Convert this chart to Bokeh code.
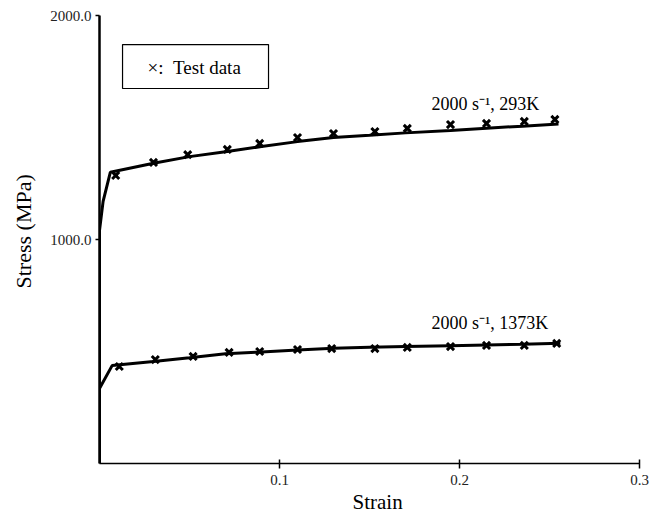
from bokeh.plotting import figure
from bokeh.models import FixedTicker, PrintfTickFormatter, Label, BoxAnnotation, Range1d, Title
from bokeh.embed import file_html
from bokeh.resources import INLINE

# ---- data ----
x_ticks = [0.1, 0.2, 0.3]
y_ticks = [1000, 2000]

model_293_strain = [0, 0, 0.002, 0.006, 0.03, 0.05, 0.07, 0.09, 0.11, 0.13, 0.15, 0.17, 0.195, 0.215, 0.235, 0.255]
model_293_stress = [0, 1040, 1170, 1300, 1340, 1370, 1392, 1415, 1437, 1455, 1465, 1476, 1487, 1497, 1506, 1516]

test_293_strain = [0.009, 0.030, 0.049, 0.071, 0.089, 0.110, 0.130, 0.153, 0.171, 0.195, 0.215, 0.236, 0.253]
test_293_stress = [1286, 1344, 1379, 1402, 1429, 1455, 1473, 1482, 1496, 1513, 1518, 1527, 1536]

model_1373_strain = [0, 0, 0.007, 0.03, 0.05, 0.07, 0.09, 0.11, 0.13, 0.15, 0.17, 0.195, 0.215, 0.235, 0.256]
model_1373_stress = [0, 335, 437, 455, 472, 490, 498, 507, 515, 519, 522, 526, 529, 532, 537]

test_1373_strain = [0.011, 0.031, 0.052, 0.072, 0.089, 0.110, 0.129, 0.153, 0.171, 0.195, 0.215, 0.236, 0.254]
test_1373_stress = [433, 464, 478, 496, 500, 509, 513, 513, 518, 522, 527, 527, 536]

label_293 = "2000 s\u207b\u00b9, 293K"
label_1373 = "2000 s\u207b\u00b9, 1373K"
legend_text = "\u00d7:\u00a0\u00a0Test data"
x_title = "Strain"
y_title = "Stress (MPa)"

FONT = "Liberation Serif"

p = figure(width=650, height=516, output_backend="svg", toolbar_location=None,
           x_range=Range1d(0, 0.3), y_range=Range1d(0, 2000),
           min_border_left=99, min_border_right=11, min_border_top=15, min_border_bottom=53)
p.outline_line_color = None
p.grid.visible = False
p.background_fill_color = "white"
p.border_fill_color = "white"

# axes
p.xaxis.ticker = FixedTicker(ticks=x_ticks)
p.yaxis.ticker = FixedTicker(ticks=y_ticks)
p.xaxis.formatter = PrintfTickFormatter(format="%.1f")
p.yaxis.formatter = PrintfTickFormatter(format="%.1f")
for ax in (p.xaxis, p.yaxis):
    ax.major_label_text_font = FONT
    ax.major_label_text_font_size = "15px"
    ax.major_label_text_color = "#222222"
    ax.axis_line_color = "black"
    ax.major_tick_line_color = "black"
    ax.minor_tick_line_color = None
p.xaxis.axis_line_width = 1.5
p.xaxis.major_tick_line_width = 1.5
p.xaxis.major_tick_in = 4
p.xaxis.major_tick_out = 5
p.xaxis.major_label_standoff = 6
p.yaxis.axis_line_width = 2.5
p.yaxis.major_tick_line_width = 1.5
p.yaxis.major_tick_in = 0
p.yaxis.major_tick_out = 4
p.yaxis.major_label_standoff = 4

# axis titles (as side-panel titles so they can be shifted like the original)
p.add_layout(Title(text=x_title, align="left", offset=253, standoff=0,
                   text_font=FONT, text_font_size="21px", text_font_style="normal",
                   text_color="black"), "below")
p.add_layout(Title(text=y_title, align="left", offset=175, standoff=19,
                   vertical_align="top",
                   text_font=FONT, text_font_size="22px", text_font_style="normal",
                   text_color="black"), "left")

# model curves
p.line(model_293_strain, model_293_stress, line_color="black", line_width=3)
p.line(model_1373_strain, model_1373_stress, line_color="black", line_width=3)

# test data
p.scatter(test_293_strain, test_293_stress, marker="x", size=10, line_color="black", line_width=3)
p.scatter(test_1373_strain, test_1373_stress, marker="x", size=10, line_color="black", line_width=3)

# curve labels
p.add_layout(Label(x=0.1844, y=1607, text=label_293, text_font=FONT, text_font_size="18px",
                   text_color="black", text_baseline="alphabetic"))
p.add_layout(Label(x=0.1844, y=629, text=label_1373, text_font=FONT, text_font_size="18px",
                   text_color="black", text_baseline="alphabetic"))

# legend box
p.add_layout(BoxAnnotation(left=0.0128, right=0.0939, bottom=1674, top=1870,
                           fill_alpha=0, line_color="black", line_width=1.2, line_alpha=1))
p.add_layout(Label(x=0.0267, y=1768, text=legend_text, text_font=FONT, text_font_size="19px",
                   text_color="black", text_baseline="middle"))

open("out.html", "w").write(file_html(p, INLINE))
